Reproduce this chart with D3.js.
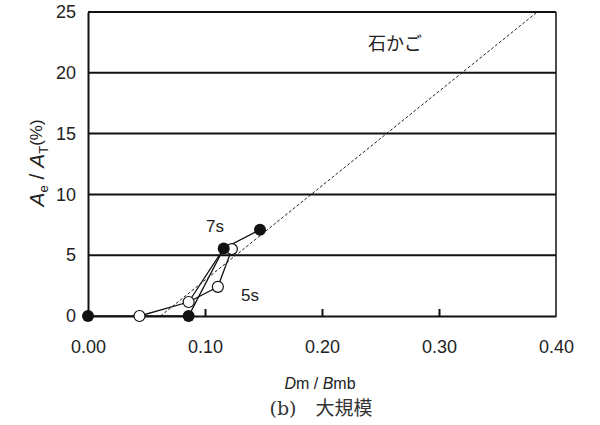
<!DOCTYPE html>
<html>
<head>
<meta charset="utf-8">
<script src="https://cdn.jsdelivr.net/npm/d3@7"></script>
<style>
  body { margin: 0; background: #fff; }
  text { font-family: "Liberation Sans", Arial, sans-serif; }
</style>
</head>
<body>
<div id="chart"></div>
<script>
// 7s (filled) and 5s (open) series, Dm/Bmb vs Ae/AT(%)
var filledX = [0.000, 0.086, 0.116, 0.147];
var filledY = [0.0, 0.0, 5.55, 7.1];
var openX = [0.044, 0.086, 0.111, 0.123];
var openY = [0.0, 1.15, 2.4, 5.5];
// extra connector between the two series
var linkX = [0.086, 0.116];
var linkY = [1.15, 5.55];
// dashed trend line end points
var trendX = [0.062, 0.384];
var trendY = [0, 25];
var xTicks = [0.0, 0.1, 0.2, 0.3, 0.4];
var yTicks = [0, 5, 10, 15, 20, 25];

var width = 600, height = 425;
var margin = {left: 88, right: 44, top: 12, bottom: 109};
var svg = d3.select('#chart').append('svg').attr('width', width).attr('height', height);
var g = svg.append('g').attr('transform', 'translate(' + margin.left + ',' + margin.top + ')');
var w = width - margin.left - margin.right, h = height - margin.top - margin.bottom;

var xscale = d3.scaleLinear().domain([0, 0.4]).range([0, w]);
var yscale = d3.scaleLinear().domain([0, 25]).range([h, 0]);

// grid lines
g.selectAll('.grid').data(yTicks.slice(1)).enter().append('line')
  .attr('x1', 0).attr('x2', w)
  .attr('y1', function(d) { return yscale(d); }).attr('y2', function(d) { return yscale(d); })
  .attr('stroke', '#111').attr('stroke-width', 2);
// right border
g.append('line').attr('x1', w).attr('x2', w).attr('y1', 0).attr('y2', h)
  .attr('stroke', '#111').attr('stroke-width', 1.5);

var xaxis = d3.axisBottom(xscale).tickValues(xTicks).tickFormat(d3.format('.2f')).tickSizeInner(-7).tickSizeOuter(0).tickPadding(24);
var yaxis = d3.axisLeft(yscale).tickValues(yTicks).tickSize(0).tickPadding(12);
var gx = g.append('g').attr('transform', 'translate(0,' + h + ')').call(xaxis);
var gy = g.append('g').call(yaxis);
[gx, gy].forEach(function(a) {
  a.select('.domain').attr('stroke', '#111').attr('stroke-width', 2);
  a.selectAll('line').attr('stroke', '#111').attr('stroke-width', 2);
  a.selectAll('text').attr('font-size', 18).attr('fill', '#222')
    .style('font-family', '"Liberation Sans", Arial, sans-serif');
});
gx.selectAll('.tick').filter(function(d) { return d === 0 || d === 0.4; }).select('line').remove();

// trend line
g.append('line')
  .attr('x1', xscale(trendX[0])).attr('y1', yscale(trendY[0]))
  .attr('x2', xscale(trendX[1])).attr('y2', yscale(trendY[1]))
  .attr('stroke', '#222').attr('stroke-width', 1).attr('stroke-dasharray', '3,2');

var line = d3.line().x(function(d) { return xscale(d[0]); }).y(function(d) { return yscale(d[1]); });
var filled = d3.zip(filledX, filledY), open = d3.zip(openX, openY), link = d3.zip(linkX, linkY);
[filled, open, link].forEach(function(s) {
  g.append('path').datum(s).attr('d', line).attr('fill', 'none').attr('stroke', '#111').attr('stroke-width', 1.3);
});

g.selectAll('.open').data(open).enter().append('circle')
  .attr('cx', function(d) { return xscale(d[0]); }).attr('cy', function(d) { return yscale(d[1]); })
  .attr('r', 5.5).attr('fill', '#fff').attr('stroke', '#111').attr('stroke-width', 1.2);
g.selectAll('.filled').data(filled).enter().append('circle')
  .attr('cx', function(d) { return xscale(d[0]); }).attr('cy', function(d) { return yscale(d[1]); })
  .attr('r', 6).attr('fill', '#111');

// labels
svg.append('text').attr('x', 215).attr('y', 232).attr('text-anchor', 'middle').attr('font-size', 17).attr('fill', '#222').text('7s');
svg.append('text').attr('x', 250).attr('y', 301).attr('text-anchor', 'middle').attr('font-size', 17).attr('fill', '#222').text('5s');
svg.append('text').attr('x', 395).attr('y', 50).attr('text-anchor', 'middle').attr('font-size', 18).attr('fill', '#222')
  .style('font-family', '"Noto Sans CJK JP", sans-serif').text('石かご');

// y label
var yl = svg.append('text').attr('transform', 'translate(44,163) rotate(-90)').attr('text-anchor', 'middle')
  .attr('font-size', 21).attr('fill', '#222');
yl.append('tspan').attr('font-style', 'italic').text('A');
yl.append('tspan').attr('font-size', 13).attr('dy', 4).text('e');
yl.append('tspan').attr('dy', -4).text(' / ');
yl.append('tspan').attr('font-style', 'italic').text('A');
yl.append('tspan').attr('font-size', 13).attr('dy', 4).text('T');
yl.append('tspan').attr('dy', -6).attr('font-size', 17).text('(%)');

// x label
var xl = svg.append('text').attr('x', 320).attr('y', 389).attr('text-anchor', 'middle').attr('font-size', 16).attr('fill', '#222');
xl.append('tspan').attr('font-style', 'italic').text('D');
xl.append('tspan').text('m / ');
xl.append('tspan').attr('font-style', 'italic').text('B');
xl.append('tspan').text('mb');

// caption
svg.append('text').attr('x', 321).attr('y', 415).attr('text-anchor', 'middle').attr('font-size', 19).attr('fill', '#333')
  .style('font-family', '"DejaVu Serif", "Noto Sans CJK JP", serif').text('(b)\u3000大規模');
</script>
</body>
</html>
